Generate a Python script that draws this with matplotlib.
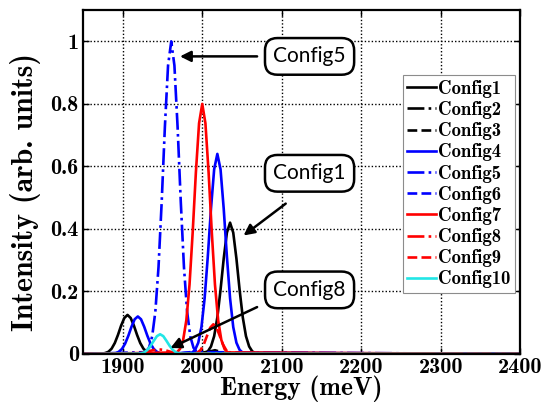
import numpy as np
import matplotlib
matplotlib.use('Agg')
import matplotlib.pyplot as plt

# spectra (energy in meV, intensity in arb. units)
config1_e = [1850, 1874, 1878, 1882, 1886, 1890, 1894, 1898, 1902, 1906, 1910, 1914, 1918, 1922, 1926, 1930, 1934, 1938,
             2003, 2007, 2011, 2015, 2019, 2023, 2027, 2031, 2035, 2039, 2043, 2047, 2051, 2055, 2059, 2063, 2067, 2400]
config1_i = [0, 0.001, 0.003, 0.007, 0.017, 0.035, 0.061, 0.091, 0.115, 0.125, 0.115, 0.091, 0.061, 0.035, 0.017, 0.007, 0.003, 0.001,
             0.003, 0.008, 0.024, 0.057, 0.117, 0.205, 0.305, 0.388, 0.42, 0.388, 0.305, 0.205, 0.117, 0.057, 0.024, 0.008, 0.003, 0]

config2_e = [1850, 1996, 2004, 2012, 2020, 2028, 2400]
config2_i = [0, 0.001, 0.006, 0.009, 0.005, 0.001, 0]

config3_e = [1850, 2000, 2008, 2016, 2024, 2032, 2400]
config3_i = [0, 0.001, 0.007, 0.012, 0.006, 0.001, 0]

config4_e = [1850, 1887, 1891, 1895, 1899, 1903, 1907, 1911, 1915, 1919, 1923, 1927, 1931, 1935, 1939, 1943, 1947, 1951,
             1987, 1991, 1995, 1999, 2003, 2007, 2011, 2015, 2019, 2023, 2027, 2031, 2035, 2039, 2043, 2047, 2051, 2400]
config4_i = [0, 0.001, 0.002, 0.007, 0.016, 0.033, 0.058, 0.087, 0.111, 0.12, 0.111, 0.087, 0.058, 0.033, 0.016, 0.007, 0.002, 0.001,
             0.004, 0.013, 0.036, 0.086, 0.178, 0.312, 0.465, 0.591, 0.64, 0.591, 0.465, 0.312, 0.178, 0.086, 0.036, 0.013, 0.004, 0]

config5_e = [1850, 1929, 1933, 1937, 1941, 1945, 1949, 1953, 1957, 1961, 1965, 1969, 1973, 1977, 1981, 1985, 1989, 1993, 2400]
config5_i = [0, 0.006, 0.020, 0.056, 0.135, 0.278, 0.487, 0.726, 0.923, 1.0, 0.923, 0.726, 0.487, 0.278, 0.135, 0.056, 0.020, 0.006, 0]

config6_e = [1850, 1970, 1978, 1986, 1994, 2002, 2400]
config6_i = [0, 0.001, 0.004, 0.006, 0.003, 0.001, 0]

config7_e = [1850, 1968, 1972, 1976, 1980, 1984, 1988, 1992, 1996, 2000, 2004, 2008, 2012, 2016, 2020, 2024, 2028, 2032, 2400]
config7_i = [0, 0.005, 0.016, 0.045, 0.108, 0.222, 0.390, 0.581, 0.738, 0.80, 0.738, 0.581, 0.390, 0.222, 0.108, 0.045, 0.016, 0.005, 0]

config8_e = [1850, 1920, 1928, 1936, 1944, 1952, 1960, 1968, 2400]
config8_i = [0, 0.001, 0.005, 0.011, 0.015, 0.013, 0.007, 0.002, 0]

config9_e = [1850, 1990, 1994, 1998, 2002, 2006, 2010, 2014, 2018, 2022, 2026, 2030, 2034, 2038, 2400]
config9_i = [0, 0.001, 0.004, 0.013, 0.031, 0.058, 0.084, 0.095, 0.084, 0.058, 0.031, 0.013, 0.004, 0.001, 0]

config10_e = [1850, 1919, 1923, 1927, 1931, 1935, 1939, 1943, 1947, 1951, 1955, 1959, 1963, 1967, 1971, 1975, 2400]
config10_i = [0, 0.001, 0.002, 0.005, 0.013, 0.026, 0.042, 0.057, 0.063, 0.057, 0.042, 0.026, 0.013, 0.005, 0.002, 0.001, 0]

labels = ['Config1', 'Config2', 'Config3', 'Config4', 'Config5',
          'Config6', 'Config7', 'Config8', 'Config9', 'Config10']
xticks = [1900, 2000, 2100, 2200, 2300, 2400]
yticks = [0, 0.2, 0.4, 0.6, 0.8, 1]
ytick_labels = ['0', '0.2', '0.4', '0.6', '0.8', '1']

plt.rcParams['font.family'] = 'cmb10'
plt.rcParams['axes.unicode_minus'] = False

fig = plt.figure(figsize=(5.57, 4.05), dpi=100)
ax = fig.add_axes([0.149, 0.126, 0.785, 0.849])

series = [
    (config1_e, config1_i, 'k', '-'),
    (config2_e, config2_i, 'k', '-.'),
    (config3_e, config3_i, 'k', '--'),
    (config4_e, config4_i, '#0000ff', '-'),
    (config5_e, config5_i, '#0000ff', '-.'),
    (config6_e, config6_i, '#0000ff', '--'),
    (config7_e, config7_i, '#ff0000', '-'),
    (config8_e, config8_i, '#ff0000', '-.'),
    (config9_e, config9_i, '#ff0000', '--'),
    (config10_e, config10_i, '#22e6e6', '-'),
]
for (e, inten, col, ls), lab in zip(series, labels):
    ax.plot(e, inten, color=col, linestyle=ls, linewidth=1.9, label=lab)

ax.set_xlim(1850, 2400)
ax.set_ylim(0, 1.1)
ax.set_xticks(xticks)
ax.set_yticks(yticks)
ax.set_yticklabels(ytick_labels)
ax.set_axisbelow(True)
ax.grid(True, color='k', linestyle=(0, (1, 1.5)), linewidth=1.0)
ax.tick_params(direction='in', top=True, right=True, length=4, width=1, labelsize=16, pad=3)
for sp in ax.spines.values():
    sp.set_linewidth(1.6)

ax.set_xlabel('Energy (meV)', fontsize=18.5)
ax.xaxis.set_label_coords(0.5, -0.064)
ax.set_ylabel('Intensity (arb. units)', fontsize=21.5)
ax.yaxis.set_label_coords(-0.097, 0.47)

leg = ax.legend(loc='upper right', bbox_to_anchor=(0.989, 0.811), borderaxespad=0,
                fontsize=13.5, labelspacing=0.17, handlelength=1.5, handletextpad=0.15,
                borderpad=0.25, fancybox=False, framealpha=1)
leg.get_frame().set_edgecolor('0.55')
leg.get_frame().set_linewidth(0.8)

# callout boxes and arrows
box = dict(boxstyle='round,pad=0.4,rounding_size=0.6', fc='white', ec='k', lw=1.8)
for txt, ty in [('Config5', 0.952), ('Config1', 0.578), ('Config8', 0.205)]:
    ax.text(2135, ty, txt, family='Lato', fontsize=15, ha='center', va='center', bbox=box, zorder=5)

arrows = [((1972, 0.952), (2069, 0.952)),
          ((2052, 0.379), (2105, 0.481)),
          ((1960, 0.019), (2069, 0.150))]
for head, tail in arrows:
    ax.annotate('', xy=head, xytext=tail,
                arrowprops=dict(arrowstyle='-|>', color='k', lw=1.8, mutation_scale=16,
                                shrinkA=0, shrinkB=0), zorder=6)

fig.savefig('out.png', dpi=100)
